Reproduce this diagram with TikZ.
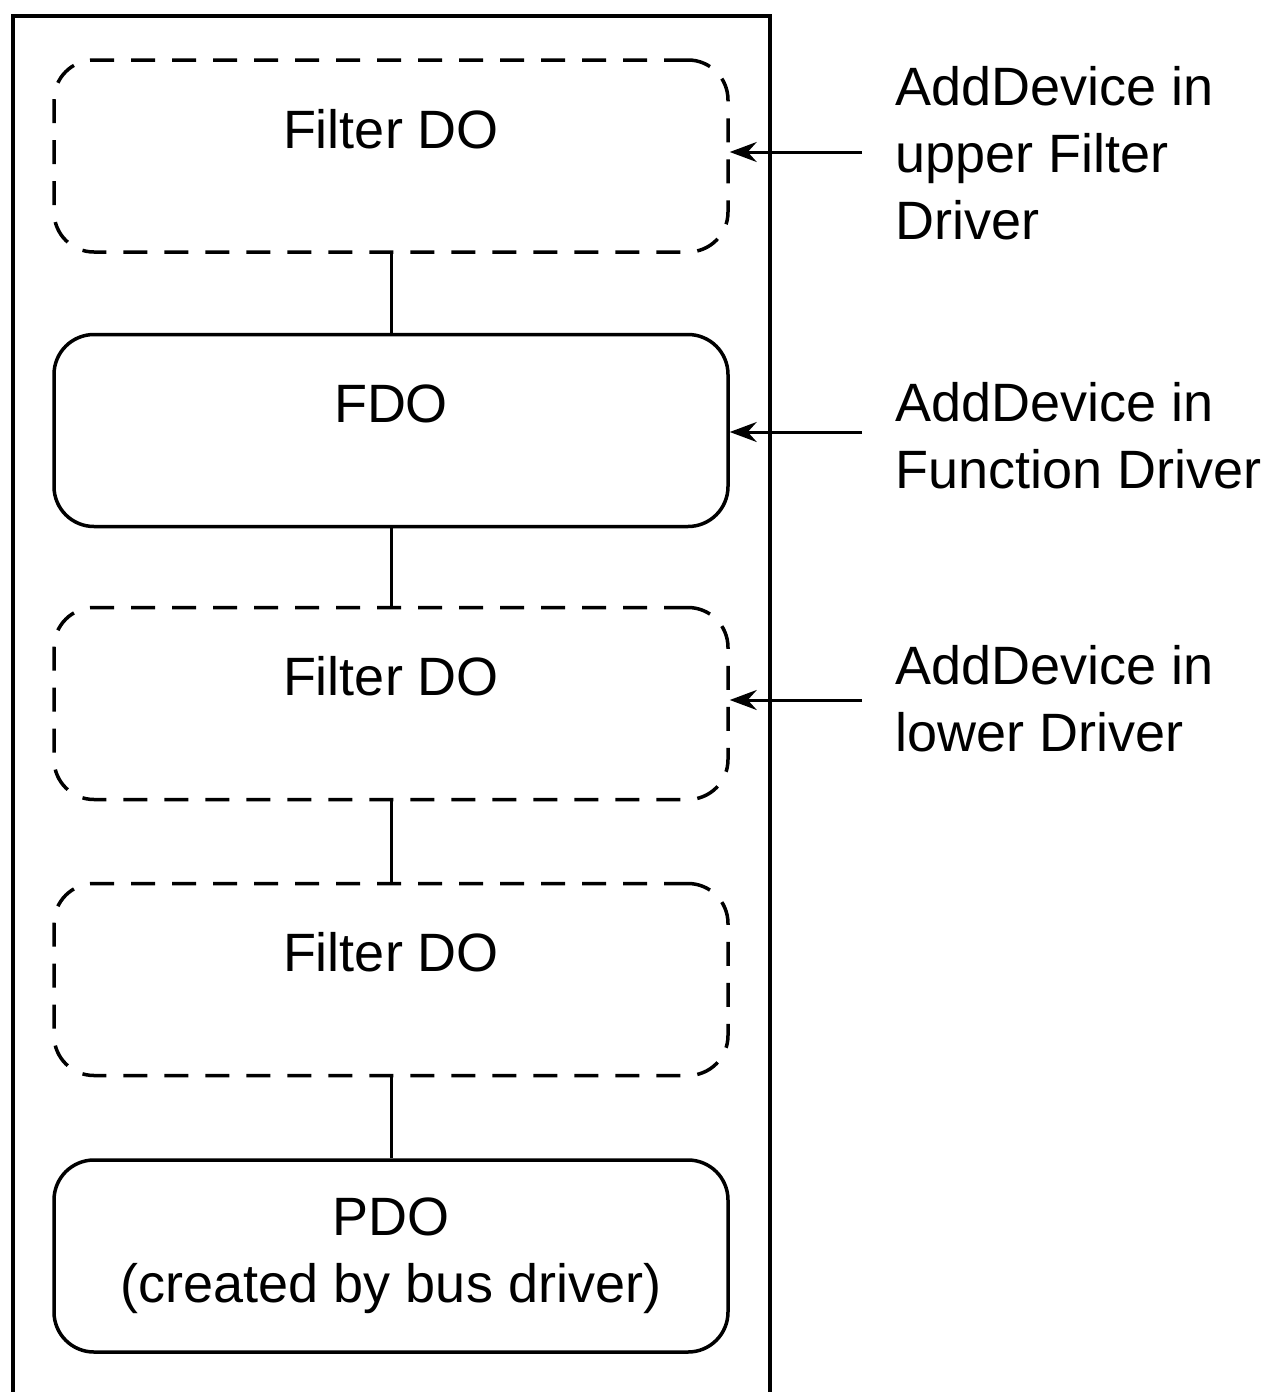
\documentclass[tikz,border=0pt]{standalone}
\usepackage{fontspec}
\setmainfont{Liberation Sans}
\usetikzlibrary{arrows.meta}
\begin{document}
\begin{tikzpicture}[x=1pt,y=-1pt,
  txt/.style={font=\fontsize{54}{67}\selectfont},
  box/.style={draw, line width=3.5pt, rounded corners=40pt, minimum width=674pt, minimum height=192pt, inner sep=0pt, txt},
  dbox/.style={box, dash pattern=on 24pt off 17pt},
  toptext/.style={text height=88pt, text depth=104pt},
  frame/.style={draw, line width=3.5pt},
  conn/.style={draw, line width=3pt},
  arr/.style={draw, line width=3pt, -{Stealth[length=27pt,width=20pt,inset=9pt]}},
  lbl/.style={anchor=north west, align=left, inner sep=0pt, txt}]
\useasboundingbox (0,0) rectangle (1269,1392);
\fill[white] (0,0) rectangle (1269,1392);
\draw[frame] (13,1392) -- (13,16) -- (770,16) -- (770,1392);
\node[dbox, toptext] (f1) at (391,156) {Filter DO};
\node[box, toptext] (fdo) at (391,430.5) {FDO};
\node[dbox, toptext] (f2) at (391,703.5) {Filter DO};
\node[dbox, toptext] (f3) at (391,979.5) {Filter DO};
\node[box, align=center] (pdo) at (391,1256) {PDO\\(created by bus driver)};
\draw[conn] (f1) -- (fdo);
\draw[conn] (fdo) -- (f2);
\draw[conn] (f2) -- (f3);
\draw[conn] (f3) -- (pdo);
\coordinate (s1) at (862,152);
\coordinate (s2) at (862,432);
\coordinate (s3) at (862,700);
\draw[arr] (s1) -- (s1 -| f1.east);
\draw[arr] (s2) -- (s2 -| fdo.east);
\draw[arr] (s3) -- (s3 -| f2.east);
\node[lbl] (t1) at (895,66) {AddDevice in\\upper Filter\\Driver};
\node[lbl] (t2) at (895,382) {AddDevice in\\Function Driver};
\node[lbl] (t3) at (895,645) {AddDevice in\\lower Driver};
\end{tikzpicture}
\end{document}
